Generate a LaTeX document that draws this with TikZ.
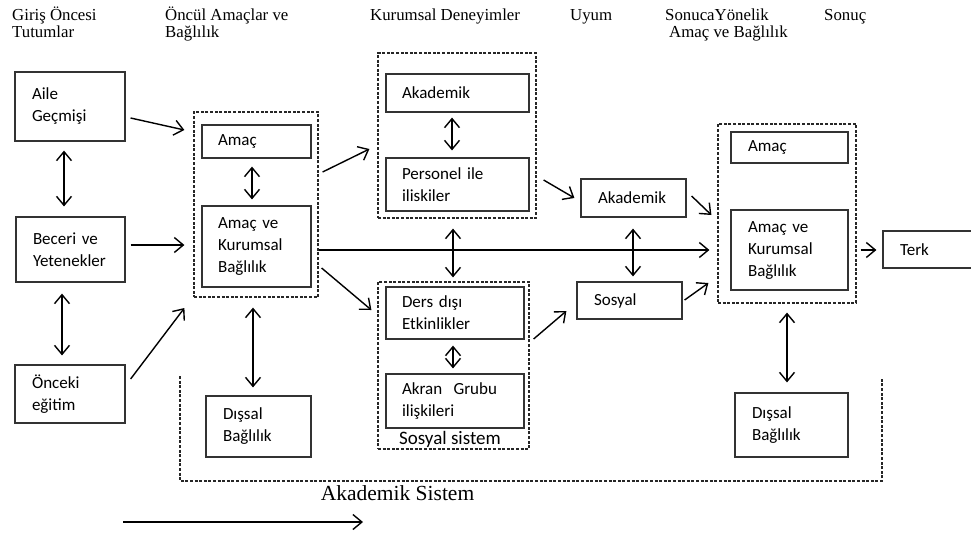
\documentclass[tikz,border=0pt]{standalone}
\usepackage{fontspec}
\setmainfont{Liberation Serif}
\newfontfamily\boxfont{Carlito}
\usetikzlibrary{arrows.meta,calc}
\begin{document}
\begin{tikzpicture}[x=1pt,y=-1pt,
  box/.style={draw=black!80, line width=1.2pt, align=left, anchor=center, inner ysep=2pt,
    font=\boxfont\fontsize{17}{22}\selectfont},
  grp/.style={draw=black!85, line width=1.2pt, dash pattern=on 3pt off 1.6pt, inner sep=0pt},
  hdr/.style={font=\fontsize{16.8}{17}\selectfont, anchor=base west, inner sep=0pt},
  arr/.style={line width=1.4pt, -{Straight Barb[length=9pt,width=15pt]}},
  darr/.style={line width=1.4pt, {Straight Barb[length=9pt,width=15pt]}-{Straight Barb[length=9pt,width=15pt]}},
]
\useasboundingbox (0,0) rectangle (971,539);

% headers
\node[hdr] (h1a) at (12,20.5) {Giriş Öncesi};
\node[hdr] (h1b) at (12,37) {Tutumlar};
\node[hdr] (h2a) at (165,20.5) {Öncül Amaçlar ve};
\node[hdr] (h2b) at (165,37) {Bağlılık};
\node[hdr] (h3) at (370,20.5) {Kurumsal Deneyimler};
\node[hdr] (h4) at (570,20.5) {Uyum};
\node[hdr] (h5a) at (665,20.5) {SonucaYönelik};
\node[hdr] (h5b) at (669,37) {Amaç ve Bağlılık};
\node[hdr] (h6) at (824,20.5) {Sonuç};

% dashed groups
\node[grp, minimum width=124, minimum height=185] (g1) at (256,204.5) {};
\node[grp, minimum width=158, minimum height=165] (g2) at (457,135.5) {};
\node[grp, minimum width=151, minimum height=167] (g3) at (453.5,365.5) {};
\node[grp, minimum width=138, minimum height=179] (g4) at (787,213.5) {};

% boxes
\node[box, minimum width=110, minimum height=69, inner xsep=17, text width=76] (aile) at (70,106.5) {Aile\\Geçmişi};
\node[box, minimum width=109, minimum height=65, inner xsep=17, text width=75] (beceri) at (70.5,249.5) {Beceri ve\\Yetenekler};
\node[box, minimum width=110, minimum height=58, inner xsep=17, text width=76] (onceki) at (70,394) {Önceki\\eğitim};
\node[box, minimum width=109, minimum height=33, inner xsep=16, text width=77] (amac1) at (256.5,141.5) {Amaç};
\node[box, minimum width=109, minimum height=81, inner xsep=16, text width=77] (akb1) at (256.5,246.5) {Amaç ve\\Kurumsal\\Bağlılık};
\node[box, minimum width=105, minimum height=61, inner xsep=17, text width=71] (dis1) at (258.5,426.5) {Dışsal\\Bağlılık};
\node[box, minimum width=143, minimum height=38, inner xsep=16, text width=111] (akad1) at (457.5,93) {Akademik};
\node[box, minimum width=143, minimum height=53, inner xsep=16, text width=111] (pers) at (457.5,184.5) {Personel ile\\iliskiler};
\node[box, minimum width=138, minimum height=52, inner xsep=16, text width=106] (ders) at (455,313) {Ders dışı\\Etkinlikler};
\node[box, minimum width=138, minimum height=54, inner xsep=16, text width=106] (akran) at (455,401) {Akran~~Grubu\\ilişkileri};
\node[box, minimum width=105, minimum height=38, inner xsep=17, text width=71] (uakad) at (633.5,198) {Akademik};
\node[box, minimum width=105, minimum height=37, inner xsep=17, text width=71] (sosyal) at (629.5,300.5) {Sosyal};
\node[box, minimum width=117, minimum height=31, inner xsep=17, text width=83] (amac2) at (789.5,147.5) {Amaç};
\node[box, minimum width=117, minimum height=80, inner xsep=17, text width=83] (akb2) at (789.5,250) {Amaç ve\\Kurumsal\\Bağlılık};
\node[box, minimum width=113, minimum height=64, inner xsep=17, text width=79] (dis2) at (791.5,425) {Dışsal\\Bağlılık};
\node[box, minimum width=92, minimum height=37, inner xsep=17, text width=58] (terk) at (929,249.5) {Terk};

% labels
\node[font=\boxfont\fontsize{19}{19}\selectfont, inner sep=0pt] (sosSis) at (450,439) {Sosyal sistem};
\node[font=\fontsize{21.5}{22}\selectfont, inner sep=0pt] (akSis) at (397.5,493) {Akademik Sistem};

% academic system bracket
\draw[grp] (180,376) -- (180,481) -- (882,481) -- (882,378);

% connectors
\draw[arr] ($(aile.east)+(5,11.5)$) -- ($(g1.west)+(-9,-74.5)$);
\draw[arr] ($(beceri.east)+(5,-4.5)$) -- ($(g1.west)+(-9,40.5)$);
\draw[arr] ($(onceki.east)+(5,-15)$) -- ($(g1.west)+(-9,103.5)$);
\draw[darr] ($(aile.south)+(-6,9)$) -- ($(beceri.north)+(-6.5,-10)$);
\draw[darr] ($(beceri.south)+(-8.5,11)$) -- ($(onceki.north)+(-8,-9)$);
\draw[darr] ($(amac1.south)+(-4.5,8)$) -- ($(akb1.north)+(-4.5,-6)$);
\draw[darr] ($(g1.south)+(-3,10)$) -- ($(dis1.north)+(-5.5,-8)$);
\draw[arr] ($(g1.east)+(4,-32.5)$) -- ($(g2.west)+(-8,13.5)$);
\draw[arr] ($(g1.east)+(3,63.5)$) -- ($(g3.west)+(-6,-55.5)$);
\draw[arr] ($(g1.east)+(0,45.5)$) -- ($(g4.west)+(-8,36.5)$);
\draw[darr] ($(g2.south)+(-4,10)$) -- ($(g3.north)+(-0.5,-4)$);
\draw[darr] ($(akad1.south)+(-5.5,5)$) -- ($(pers.north)+(-5.5,-7)$);
\draw[darr] ($(ders.south)+(-2,6)$) -- ($(akran.north)+(-2,-5)$);
\draw[arr] ($(pers.east)+(14,-4.5)$) -- ($(uakad.west)+(-6,0)$);
\draw[arr] ($(g3.east)+(4,-26.5)$) -- ($(sosyal.west)+(-10,10.5)$);
\draw[darr] ($(uakad.south)+(-0.5,11)$) -- ($(sosyal.north)+(3.5,-5)$);
\draw[arr] ($(uakad.east)+(5,-2)$) -- ($(g4.west)+(-6,1.5)$);
\draw[arr] ($(sosyal.east)+(2,-0.5)$) -- ($(g4.west)+(-9,69.5)$);
\draw[arr] ($(g4.east)+(4,36.5)$) -- ($(terk.west)+(-6,0.5)$);
\draw[darr] ($(g4.south)+(0,9)$) -- ($(dis2.north)+(-4.5,-10)$);

% bottom arrow
\coordinate (bs) at (123,522);
\coordinate (be) at (363,522);
\draw[arr] (bs) -- (be);
\end{tikzpicture}
\end{document}
